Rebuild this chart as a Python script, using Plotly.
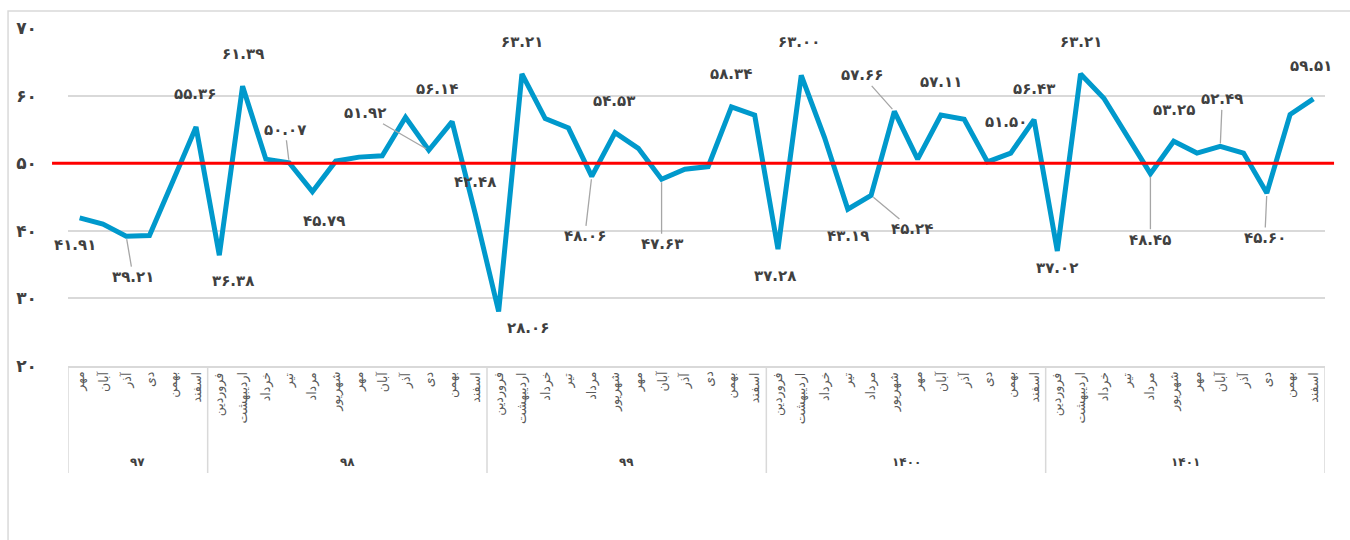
import plotly.graph_objects as go

# ---------------- data ----------------
years = ["۹۷", "۹۸", "۹۹", "۱۴۰۰", "۱۴۰۱"]
months_97 = ["مهر", "آبان", "آذر", "دی", "بهمن", "اسفند"]
months_full = ["فروردین", "اردیبهشت", "خرداد", "تیر", "مرداد", "شهریور",
               "مهر", "آبان", "آذر", "دی", "بهمن", "اسفند"]
year_months = [months_97, months_full, months_full, months_full, months_full]

values_97 = [41.91, 41.0, 39.21, 39.3, 47.3, 55.36]
values_98 = [36.38, 61.39, 50.6, 50.07, 45.79, 50.3, 50.9, 51.1, 56.8, 51.92, 56.14, 42.48]
values_99 = [28.06, 63.21, 56.6, 55.2, 48.06, 54.53, 52.2, 47.63, 49.1, 49.5, 58.34, 57.1]
values_1400 = [37.28, 63.00, 53.8, 43.19, 45.24, 57.66, 50.6, 57.11, 56.5, 50.2, 51.50, 56.43]
values_1401 = [37.02, 63.21, 59.6, 54.0, 48.45, 53.25, 51.5, 52.49, 51.5, 45.60, 57.2, 59.51]
year_values = [values_97, values_98, values_99, values_1400, values_1401]

threshold = 50
y_ticks = [20, 30, 40, 50, 60, 70]

# indices of points that carry a value label (in overall order)
labelled = [0, 2, 5, 6, 7, 9, 10, 15, 16, 17, 18, 19, 22, 23, 25, 28, 30, 31,
            33, 34, 35, 37, 40, 41, 42, 43, 46, 47, 49, 51, 53]

# ---------------- label placement (style) ----------------
# idx: (dx, dy, leader)  pixel offsets of label centre from point (dy down)
label_pos = {
    0: (-5, 27, False), 2: (7, 41, True), 5: (-1, -33, False), 6: (14, 26, False),
    7: (0, -32, False), 9: (-4, -33, True), 10: (12, 29, False), 15: (-64, -37, True),
    16: (-15, -33, False), 17: (0, -32, False), 18: (29, 16, False), 19: (0, -32, False),
    22: (-7, 60, True), 23: (-1, -32, False), 25: (0, 65, True), 28: (0, -33, False),
    30: (-3, 27, False), 31: (-2, -33, False), 33: (0, 27, False), 34: (41, 34, True),
    35: (-32, -36, True), 37: (0, -33, False), 40: (-5, -31, False), 41: (0, -31, False),
    42: (0, 17, False), 43: (0, -32, False), 46: (0, 66, True), 47: (0, -31, False),
    49: (2, -47, True), 51: (-2, 45, True), 53: (-2, -33, False),
}

FA = str.maketrans("0123456789", "۰۱۲۳۴۵۶۷۸۹")
def fa(s):
    return s.translate(FA)

FONT = "DejaVu Sans"
TXT = "#404040"
GRID = "#D9D9D9"

# flatten
values, month_labels, group_bounds = [], [], []
start = 0
for ms, vs in zip(year_months, year_values):
    values += vs
    month_labels += ms
    group_bounds.append((start, start + len(vs) - 1))
    start += len(vs)
xs = list(range(len(values)))

fig = go.Figure()
fig.add_trace(go.Scatter(
    x=xs, y=values, mode="lines",
    line=dict(color="#0099CC", width=5),
    hoverinfo="skip", showlegend=False,
))

annotations = []
shapes = []

# value labels
for i in labelled:
    dx, dy, leader = label_pos[i]
    txt = "<b>" + fa(f"{values[i]:.2f}") + "</b>"
    if leader:
        annotations.append(dict(
            x=xs[i], y=values[i], xref="x", yref="y", text=txt,
            showarrow=True, arrowhead=0, arrowwidth=1.3, arrowcolor="#A6A6A6",
            ax=dx, ay=dy, standoff=3,
            font=dict(family=FONT, size=15, color=TXT),
        ))
    else:
        annotations.append(dict(
            x=xs[i], y=values[i], xref="x", yref="y", text=txt,
            showarrow=False, xshift=dx, yshift=-dy,
            font=dict(family=FONT, size=15, color=TXT),
        ))

# month labels
for i, m in enumerate(month_labels):
    annotations.append(dict(
        x=xs[i], y=0, xref="x", yref="paper", text=m, textangle=-90,
        showarrow=False, xanchor="center", yanchor="top", yshift=-4,
        font=dict(family=FONT, size=12.5, color="#595959"),
    ))

# year group labels and dividers
for (a, b), yl in zip(group_bounds, years):
    annotations.append(dict(
        x=(a + b) / 2, y=0, xref="x", yref="paper", text="<b>" + yl + "</b>",
        showarrow=False, yshift=-96, yanchor="middle",
        font=dict(family=FONT, size=12, color=TXT),
    ))
    shapes.append(dict(type="line", xref="x", yref="paper", x0=a - 0.5, x1=a - 0.5,
                       y0=0, y1=-107 / 338, line=dict(color=GRID, width=1.5)))
shapes.append(dict(type="line", xref="x", yref="paper",
                   x0=group_bounds[-1][1] + 0.5, x1=group_bounds[-1][1] + 0.5,
                   y0=0, y1=-107 / 338, line=dict(color=GRID, width=1.5)))

# threshold line
shapes.append(dict(type="line", xref="paper", yref="y", x0=-0.0127, x1=1.0072,
                   y0=threshold, y1=threshold, layer="above",
                   line=dict(color="#FF0000", width=3)))

# outer chart border
shapes.append(dict(type="rect", xref="paper", yref="paper", x0=-0.0477, x1=1.05,
                   y0=-0.8, y1=1.0503, line=dict(color=GRID, width=1.5), layer="below"))

fig.update_layout(
    width=1350, height=540,
    margin=dict(l=68, r=25, t=28, b=174),
    paper_bgcolor="white", plot_bgcolor="white",
    xaxis=dict(range=[-0.5, len(values) - 0.5], showticklabels=False, showgrid=False,
               zeroline=False, showline=True, linecolor=GRID, linewidth=1.5, ticks=""),
    yaxis=dict(range=[20, 70], tickvals=y_ticks, ticktext=["<b>" + fa(str(v)) + "</b>" for v in y_ticks],
               showgrid=True, gridcolor=GRID, gridwidth=1.5, zeroline=False,
               tickfont=dict(family=FONT, size=17, color=TXT), ticklabelstandoff=30),
    annotations=annotations,
    shapes=shapes,
    hovermode=False,
)

fig.write_html("out.html", config={"displayModeBar": False},
               post_script="document.body.style.margin='0px';")
